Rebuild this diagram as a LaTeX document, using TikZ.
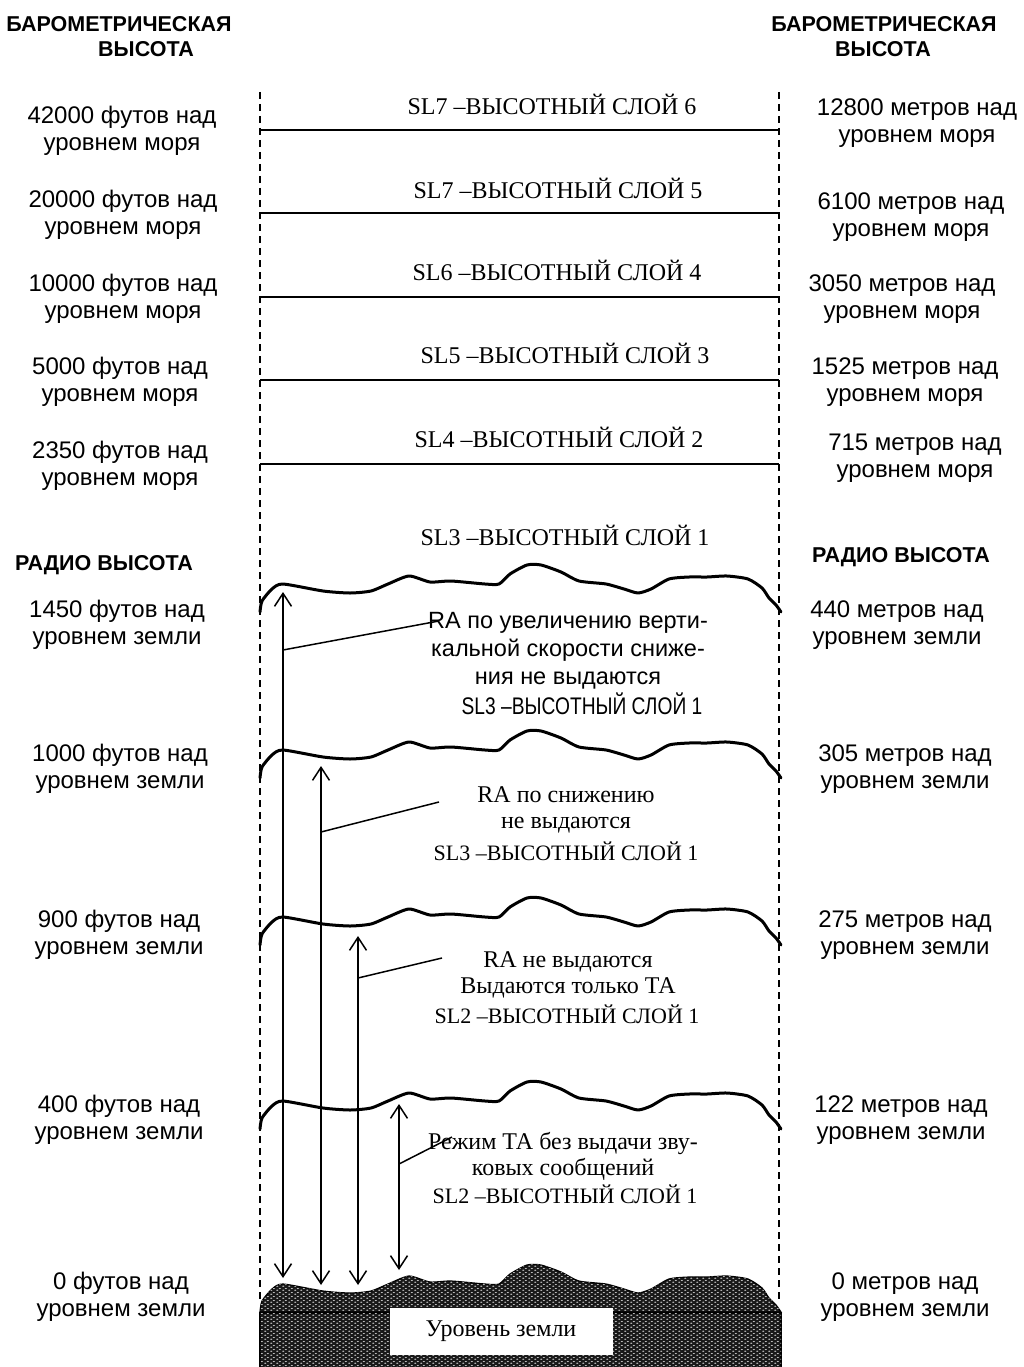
\documentclass[tikz,border=0pt]{standalone}
\usepackage{fontspec}
\setmainfont{Liberation Serif}
\newfontfamily\arialf{Liberation Sans}
\usetikzlibrary{arrows.meta,patterns}
\pgfdeclarepatternformonly{wdots}{\pgfpointorigin}{\pgfqpoint{6pt}{4pt}}{\pgfqpoint{6pt}{4pt}}{%
  \pgfpathellipse{\pgfqpoint{1.5pt}{1pt}}{\pgfqpoint{1.4pt}{0pt}}{\pgfqpoint{0pt}{0.75pt}}%
  \pgfpathellipse{\pgfqpoint{4.5pt}{3pt}}{\pgfqpoint{1.4pt}{0pt}}{\pgfqpoint{0pt}{0.75pt}}%
  \pgfusepath{fill}}
\begin{document}
\begin{tikzpicture}[x=1pt,y=-1pt,
  sans/.style={font=\arialf\fontsize{24}{27}\selectfont, align=center, inner sep=0pt},
  head/.style={font=\arialf\bfseries\fontsize{21.5}{26}\selectfont, inner sep=0pt},
  serif/.style={font=\fontsize{24}{26}\selectfont, align=center, inner sep=0pt},
  layer/.style={line width=2.8pt},
  wave/.style={line width=3pt, line join=round, line cap=round},
  guide/.style={line width=1.3pt, dash pattern=on 7pt off 5pt},
  rng/.style={line width=1.5pt, {Straight Barb[length=13pt,width=17pt]}-{Straight Barb[length=13pt,width=17pt]}},
  lead/.style={line width=1.5pt}]
\useasboundingbox (0,0) rectangle (1024,1367);

% ground
\path[fill=black!90, draw=black, line width=1.2pt, shift={(0,700)},
  postaction={pattern=wdots, pattern color=white!80!black}]
  plot[smooth,tension=0.4] coordinates {(260,612) (262,601) (272,589) (283,584) (323,591) (350,593) (371,591) (388,584) (409,576) (430,582) (451,581) (485,584) (499,584) (510,574) (527,565) (541,565) (561,572) (579,581) (606,584) (624,589) (638,593) (651,589) (669,579) (689,577) (707,577) (727,576) (748,579) (762,588) (769,598) (776,605) (781,612)} -- cycle;
\path[fill=black!90, draw=black, line width=1.2pt,
  postaction={pattern=wdots, pattern color=white!80!black}]
  (260,1313) rectangle (781,1370);
\node[serif, fill=white, minimum width=223pt, minimum height=47pt] (gl) at (501,1331) {Уровень земли};

% guides
\coordinate (gl1) at (260,92); \coordinate (gl2) at (260,1302);
\coordinate (gr1) at (779,92); \coordinate (gr2) at (779,1302);
\draw[guide] (gl1) -- (gl2);
\draw[guide] (gr1) -- (gr2);

% layer lines
\foreach \yy [count=\i] in {130,213,297,380,464}{
  \coordinate (la\i) at (260,\yy); \coordinate (lb\i) at (779,\yy);
  \draw[layer] (la\i) -- (lb\i);
}

% terrain waves
\foreach \off in {0,166,333,517}{
  \draw[wave, shift={(0,\off)}] plot[smooth,tension=0.4] coordinates {(260,612) (262,601) (272,589) (283,584) (323,591) (350,593) (371,591) (388,584) (409,576) (430,582) (451,581) (485,584) (499,584) (510,574) (527,565) (541,565) (561,572) (579,581) (606,584) (624,589) (638,593) (651,589) (669,579) (689,577) (707,577) (727,576) (748,579) (762,588) (769,598) (776,605) (781,612)};
}

% headers
\node[head] (hl1) at (119,24) {БАРОМЕТРИЧЕСКАЯ};
\node[head] (hl2) at (146,49) {ВЫСОТА};
\node[head] (hr1) at (884,24) {БАРОМЕТРИЧЕСКАЯ};
\node[head] (hr2) at (883,49) {ВЫСОТА};
\node[head] (rl) at (104,565) {РАДИО ВЫСОТА};
\node[head] (rr) at (901,557) {РАДИО ВЫСОТА};

% left values
\node[sans] (v1) at (122,131) {42000 футов над\\уровнем моря};
\node[sans] (v2) at (123,215) {20000 футов над\\уровнем моря};
\node[sans] (v3) at (123,299) {10000 футов над\\уровнем моря};
\node[sans] (v4) at (120,382) {5000 футов над\\уровнем моря};
\node[sans] (v5) at (120,466) {2350 футов над\\уровнем моря};
\node[sans] (v6) at (117,625) {1450 футов над\\уровнем земли};
\node[sans] (v7) at (120,769) {1000 футов над\\уровнем земли};
\node[sans] (v8) at (119,935) {900 футов над\\уровнем земли};
\node[sans] (v9) at (119,1120) {400 футов над\\уровнем земли};
\node[sans] (v10) at (121,1297) {0 футов над\\уровнем земли};

% right values
\node[sans] (m1) at (917,123) {12800 метров над\\уровнем моря};
\node[sans] (m2) at (911,217) {6100 метров над\\уровнем моря};
\node[sans] (m3) at (902,299) {3050 метров над\\уровнем моря};
\node[sans] (m4) at (905,382) {1525 метров над\\уровнем моря};
\node[sans] (m5) at (915,458) {715 метров над\\уровнем моря};
\node[sans] (m6) at (897,625) {440 метров над\\уровнем земли};
\node[sans] (m7) at (905,769) {305 метров над\\уровнем земли};
\node[sans] (m8) at (905,935) {275 метров над\\уровнем земли};
\node[sans] (m9) at (901,1120) {122 метров над\\уровнем земли};
\node[sans] (m10) at (905,1297) {0 метров над\\уровнем земли};

% layer labels
\node[serif] (s6) at (552,104) {SL7 –ВЫСОТНЫЙ СЛОЙ 6};
\node[serif] (s5) at (558,188) {SL7 –ВЫСОТНЫЙ СЛОЙ 5};
\node[serif] (s4) at (557,270) {SL6 –ВЫСОТНЫЙ СЛОЙ 4};
\node[serif] (s3) at (565,353) {SL5 –ВЫСОТНЫЙ СЛОЙ 3};
\node[serif] (s2) at (559,437) {SL4 –ВЫСОТНЫЙ СЛОЙ 2};
\node[serif] (s1) at (565,535) {SL3 –ВЫСОТНЫЙ СЛОЙ 1};

% text blocks
\node[sans, font=\arialf\fontsize{23.5}{28}\selectfont] (t1) at (568,651) {RA по увеличению верти-\\кальной скорости сниже-\\ния не выдаются};
\node[sans] (t1b) at (582,704) {\scalebox{0.8}[1]{SL3 –ВЫСОТНЫЙ СЛОЙ 1}};
\node[serif] (t2) at (566,810) {RA по снижению\\не выдаются};
\node[serif, font=\fontsize{22}{26}\selectfont] (t2b) at (566,851) {SL3 –ВЫСОТНЫЙ СЛОЙ 1};
\node[serif] (t3) at (568,975) {RA не выдаются\\Выдаются только ТА};
\node[serif, font=\fontsize{22}{26}\selectfont] (t3b) at (567,1014) {SL2 –ВЫСОТНЫЙ СЛОЙ 1};
\node[serif] (t4) at (563,1156) {Режим ТА без выдачи зву-\\ковых сообщений};
\node[serif, font=\fontsize{22}{26}\selectfont] (t4b) at (565,1194) {SL2 –ВЫСОТНЫЙ СЛОЙ 1};

% range arrows
\coordinate (a1t) at (283,592); \coordinate (a1b) at (283,1278);
\coordinate (a2t) at (321,766); \coordinate (a2b) at (321,1285);
\coordinate (a3t) at (358,936); \coordinate (a3b) at (358,1285);
\coordinate (a4t) at (399,1104); \coordinate (a4b) at (399,1270);
\draw[rng] (a1t) -- (a1b);
\draw[rng] (a2t) -- (a2b);
\draw[rng] (a3t) -- (a3b);
\draw[rng] (a4t) -- (a4b);

% leaders
\coordinate (k1a) at (283,650); \coordinate (k1b) at (439,621);
\coordinate (k2a) at (321,832); \coordinate (k2b) at (439,802);
\coordinate (k3a) at (358,978); \coordinate (k3b) at (442,958);
\coordinate (k4a) at (399,1164); \coordinate (k4b) at (452,1137);
\draw[lead] (k1a) -- (k1b);
\draw[lead] (k2a) -- (k2b);
\draw[lead] (k3a) -- (k3b);
\draw[lead] (k4a) -- (k4b);
\end{tikzpicture}
\end{document}
